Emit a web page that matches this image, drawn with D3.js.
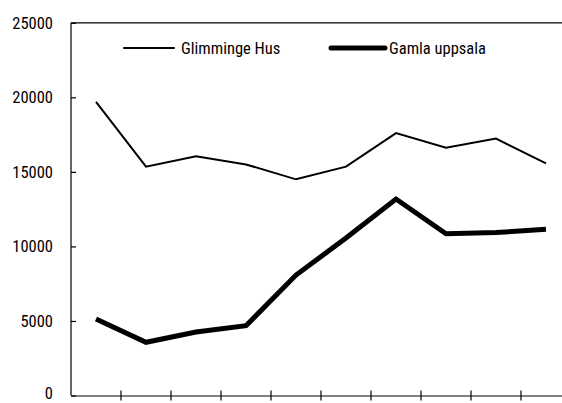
<!DOCTYPE html>
<html><head><meta charset="utf-8">
<script src="https://cdn.jsdelivr.net/npm/d3@7"></script>
<style>
html,body{margin:0;padding:0;background:#fff;}
svg text{font-family:"Liberation Sans Narrow","Roboto Condensed","DejaVu Sans Condensed",sans-serif;font-stretch:condensed;fill:#000;}
</style></head>
<body><svg id="c" width="562" height="403"></svg>
<script>
const categories = ["1","2","3","4","5","6","7","8","9","10"];
const glimminge = [19700, 15350, 16050, 15500, 14500, 15350, 17600, 16620, 17230, 15570];
const gamla = [5130, 3570, 4260, 4680, 8080, 10560, 13180, 10850, 10930, 11150];
const yTicks = [0, 5000, 10000, 15000, 20000, 25000];
const seriesNames = ["Glimminge Hus", "Gamla uppsala"];

(function () {
const svg = d3.select("#c");
const mLeft = 71, mRight = 571, mTop = 22.8, mBottom = 395.5;
const x = d3.scaleBand().domain(categories).range([mLeft, mRight]);
const y = d3.scaleLinear().domain([0, 25000]).range([mBottom, mTop]);

svg.append("line").attr("x1", mLeft).attr("x2", mRight).attr("y1", y(25000)).attr("y2", y(25000))
  .attr("stroke", "#000").attr("stroke-width", 1.2);

const yAxis = svg.append("g").attr("transform", `translate(${mLeft},0)`)
  .call(d3.axisRight(y).tickValues(yTicks).tickSize(5).tickFormat(""));
yAxis.select(".domain").remove();
yAxis.selectAll("line").attr("stroke", "#000").attr("stroke-width", 1.2);
svg.append("line").attr("x1", mLeft).attr("x2", mLeft).attr("y1", mTop).attr("y2", mBottom)
  .attr("stroke", "#000").attr("stroke-width", 1.2);
svg.selectAll(".ylab").data(yTicks).enter().append("text")
  .attr("x", 53).attr("y", d => y(d)).attr("dy", d => d === 0 ? "0.2em" : "0.35em").attr("text-anchor", "end")
  .style("font-size", "16.5px").text(d => d);

const xAxis = svg.append("g").attr("transform", `translate(0,${mBottom})`)
  .call(d3.axisBottom(x).tickSize(0).tickFormat(""));
xAxis.select(".domain").attr("stroke", "#000").attr("stroke-width", 1.2);
const bounds = categories.slice(1).map(c => x(c));
svg.selectAll(".xt").data(bounds).enter().append("line")
  .attr("x1", d => d).attr("x2", d => d).attr("y1", mBottom - 5).attr("y2", mBottom + 5)
  .attr("stroke", "#000").attr("stroke-width", 1.2);

const line = d3.line().x((d, i) => x(categories[i]) + x.bandwidth() / 2).y(d => y(d));
svg.append("path").datum(glimminge).attr("d", line).attr("fill", "none")
  .attr("stroke", "#000").attr("stroke-width", 2).attr("stroke-linejoin", "miter");
svg.append("path").datum(gamla).attr("d", line).attr("fill", "none")
  .attr("stroke", "#000").attr("stroke-width", 5).attr("stroke-linejoin", "miter");

const leg = [{n: seriesNames[0], w: 2, x1: 124, x2: 174, tx: 181}, {n: seriesNames[1], w: 5, x1: 331, x2: 385, tx: 389}];
leg.forEach(l => {
  svg.append("line").attr("x1", l.x1).attr("x2", l.x2).attr("y1", 48).attr("y2", 48)
    .attr("stroke", "#000").attr("stroke-width", l.w).attr("stroke-linecap", "round");
  svg.append("text").attr("x", l.tx).attr("y", 48).attr("dy", "0.35em").style("font-size", "16.5px").text(l.n);
});
})();
</script></body></html>
